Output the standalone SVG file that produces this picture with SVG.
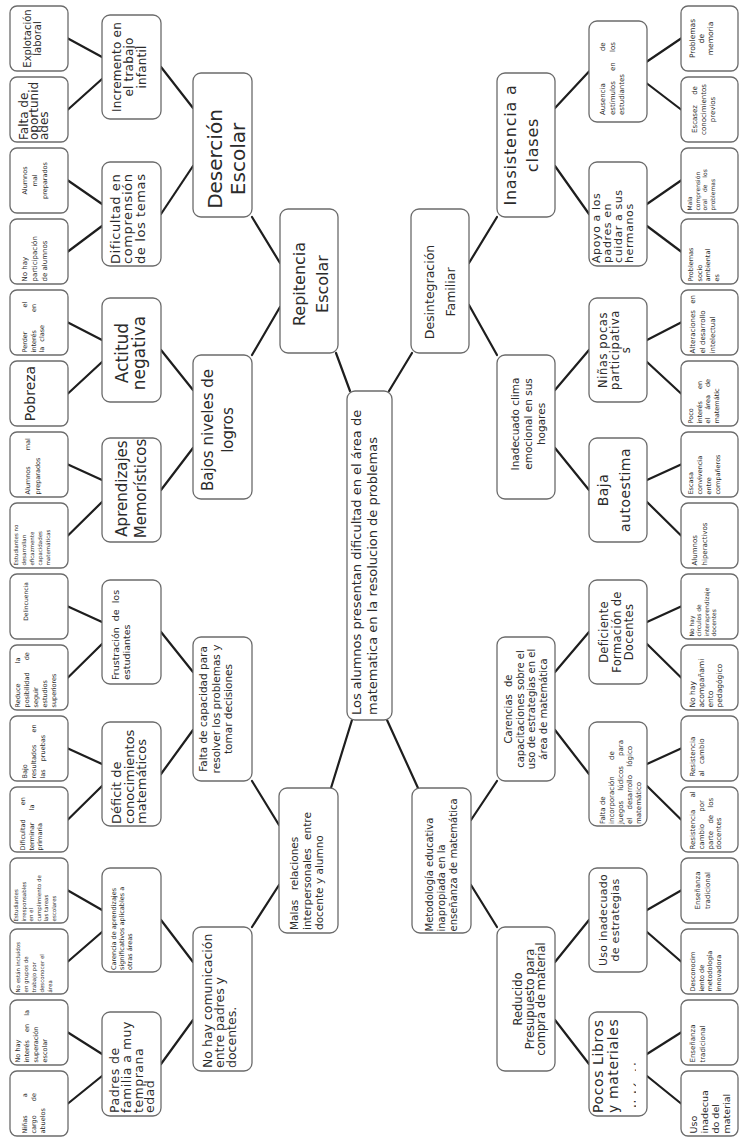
<svg xmlns="http://www.w3.org/2000/svg" width="741" height="1140" viewBox="0 0 741 1140">
<defs>
<style>
.b{fill:#fff;stroke:#6b6b6b;stroke-width:1.3}
text{font-family:"DejaVu Sans","Liberation Sans",sans-serif;fill:#2b2b2b}
.m{text-anchor:middle}
#connectors line{stroke:#1e1e1e;stroke-width:2.2;stroke-linecap:round}
</style>
<clipPath id="clipPocos"><rect x="-52" y="-29" width="104" height="47"/></clipPath>
</defs>
<rect width="741" height="1140" fill="#fff"/>
<g id="connectors">
<line x1="350" y1="391" x2="336" y2="353"/>
<line x1="389" y1="391" x2="412" y2="353"/>
<line x1="352" y1="720" x2="331" y2="788"/>
<line x1="387" y1="720" x2="418" y2="788"/>
<line x1="280" y1="263" x2="252" y2="217"/>
<line x1="280" y1="307" x2="252" y2="355"/>
<line x1="469" y1="263" x2="497" y2="217"/>
<line x1="469" y1="305" x2="497" y2="355"/>
<line x1="279" y1="825" x2="252" y2="781"/>
<line x1="279" y1="885" x2="252" y2="927"/>
<line x1="471" y1="820" x2="497" y2="781"/>
<line x1="471" y1="885" x2="497" y2="927"/>
<line x1="193" y1="108" x2="161" y2="67"/>
<line x1="193" y1="166" x2="161" y2="214"/>
<line x1="193" y1="390" x2="161" y2="350"/>
<line x1="193" y1="448" x2="161" y2="490"/>
<line x1="193" y1="672" x2="161" y2="632"/>
<line x1="193" y1="730" x2="161" y2="774"/>
<line x1="193" y1="962" x2="161" y2="920"/>
<line x1="193" y1="1020" x2="161" y2="1064"/>
<line x1="555" y1="108" x2="589" y2="71.5"/>
<line x1="555" y1="166" x2="589" y2="214"/>
<line x1="555" y1="390" x2="589" y2="350"/>
<line x1="555" y1="448" x2="589" y2="490"/>
<line x1="555" y1="672" x2="589" y2="632"/>
<line x1="555" y1="730" x2="589" y2="774"/>
<line x1="555" y1="962" x2="589" y2="920"/>
<line x1="555" y1="1020" x2="589" y2="1064"/>
<line x1="102" y1="57" x2="68" y2="38.5"/>
<line x1="102" y1="79" x2="68" y2="109.5"/>
<line x1="102" y1="204" x2="68" y2="180.5"/>
<line x1="102" y1="226" x2="68" y2="251.5"/>
<line x1="102" y1="340" x2="68" y2="322.5"/>
<line x1="102" y1="362" x2="68" y2="393.5"/>
<line x1="102" y1="480" x2="68" y2="464.5"/>
<line x1="102" y1="502" x2="68" y2="535.5"/>
<line x1="102" y1="622" x2="68" y2="606.5"/>
<line x1="102" y1="644" x2="68" y2="677.5"/>
<line x1="102" y1="764" x2="68" y2="748.5"/>
<line x1="102" y1="786" x2="68" y2="819.5"/>
<line x1="102" y1="910" x2="68" y2="890.5"/>
<line x1="102" y1="932" x2="68" y2="961.5"/>
<line x1="102" y1="1054" x2="68" y2="1032.5"/>
<line x1="102" y1="1076" x2="68" y2="1103.5"/>
<line x1="647" y1="61.5" x2="681" y2="38.5"/>
<line x1="647" y1="83.5" x2="681" y2="109.5"/>
<line x1="647" y1="204" x2="681" y2="180.5"/>
<line x1="647" y1="226" x2="681" y2="251.5"/>
<line x1="647" y1="340" x2="681" y2="322.5"/>
<line x1="647" y1="362" x2="681" y2="393.5"/>
<line x1="647" y1="480" x2="681" y2="464.5"/>
<line x1="647" y1="502" x2="681" y2="535.5"/>
<line x1="647" y1="622" x2="681" y2="606.5"/>
<line x1="647" y1="644" x2="681" y2="677.5"/>
<line x1="647" y1="764" x2="681" y2="748.5"/>
<line x1="647" y1="786" x2="681" y2="819.5"/>
<line x1="647" y1="910" x2="681" y2="890.5"/>
<line x1="647" y1="932" x2="681" y2="961.5"/>
<line x1="647" y1="1054" x2="681" y2="1032.5"/>
<line x1="647" y1="1076" x2="681" y2="1103.5"/>
</g>

<g id="root" transform="translate(369.5 555.5) rotate(-90)">
<rect class="b" x="-164.5" y="-22.5" width="329" height="45" rx="8"/>
<text font-size="13"><tspan x="-159.5" y="-8.5">Los alumnos presentan dificultad en el área de</tspan><tspan x="-159.5" y="7.5">matematica en la resolucion de problemas</tspan></text>
</g>

<g id="repitencia" transform="translate(309 281) rotate(-90)">
<rect class="b" x="-72" y="-29" width="144" height="58" rx="8"/>
<text class="m" font-size="16"><tspan x="-3" y="-4">Repitencia</tspan><tspan x="-3" y="19">Escolar</tspan></text>
</g>
<g id="desintegracion" transform="translate(440 281) rotate(-90)">
<rect class="b" x="-72" y="-29" width="144" height="58" rx="8"/>
<text class="m" font-size="12.5"><tspan x="-11" y="-6">Desintegración</tspan><tspan x="-11" y="15">Familiar</tspan></text>
</g>
<g id="malas" transform="translate(308.5 860.5) rotate(-90)">
<rect class="b" x="-72.5" y="-29.5" width="145" height="59" rx="8"/>
<text font-size="10.5"><tspan x="-69.5" y="-10.5" word-spacing="6">Malas relaciones</tspan><tspan x="-69.5" y="2" word-spacing="5">interpersonales entre</tspan><tspan x="-69.5" y="14">docente y alumno</tspan></text>
</g>
<g id="metodologia" transform="translate(441.5 860.5) rotate(-90)">
<rect class="b" x="-72.5" y="-29.5" width="145" height="59" rx="8"/>
<text font-size="10"><tspan x="-71" y="-8.5">Metodología educativa</tspan><tspan x="-71" y="3.5">inapropiada en la</tspan><tspan x="-71" y="15.5">enseñanza de matemática</tspan></text>
</g>

<g id="desercion" transform="translate(222.5 145) rotate(-90)">
<rect class="b" x="-72" y="-29.5" width="144" height="59" rx="8"/>
<text class="m" font-size="20"><tspan x="-14" y="-0.5">Deserción</tspan><tspan x="-14" y="22.5">Escolar</tspan></text>
</g>
<g id="bajos" transform="translate(222.5 427) rotate(-90)">
<rect class="b" x="-72" y="-29.5" width="144" height="59" rx="8"/>
<text class="m" font-size="15"><tspan x="-3" y="-9.5">Bajos niveles de</tspan><tspan x="-3" y="10.5">logros</tspan></text>
</g>
<g id="falta-capacidad" transform="translate(222.5 709) rotate(-90)">
<rect class="b" x="-72" y="-29.5" width="144" height="59" rx="8"/>
<text class="m" font-size="10.5"><tspan x="0" y="-15.5">Falta de capacidad para</tspan><tspan x="0" y="-3">resolver los problemas y</tspan><tspan x="0" y="9.5">tomar decisiones</tspan></text>
</g>
<g id="no-comunicacion" transform="translate(222.5 999) rotate(-90)">
<rect class="b" x="-72" y="-29.5" width="144" height="59" rx="8"/>
<text font-size="12.5"><tspan x="-69" y="-10.5">No hay comunicación</tspan><tspan x="-69" y="1.5">entre padres y</tspan><tspan x="-69" y="13.5">docentes.</tspan></text>
</g>

<g id="inasistencia" transform="translate(526 145) rotate(-90)">
<rect class="b" x="-72" y="-29" width="144" height="58" rx="8"/>
<text class="m" font-size="16" letter-spacing="0.8"><tspan x="0" y="-10">Inasistencia a</tspan><tspan x="0" y="12">clases</tspan></text>
</g>
<g id="inadecuado-clima" transform="translate(526 427) rotate(-90)">
<rect class="b" x="-72" y="-29" width="144" height="58" rx="8"/>
<text class="m" font-size="10.5"><tspan x="3" y="-7">Inadecuado clima</tspan><tspan x="3" y="6">emocional en sus</tspan><tspan x="3" y="19">hogares</tspan></text>
</g>
<g id="carencias" transform="translate(526 709) rotate(-90)">
<rect class="b" x="-72" y="-29" width="144" height="58" rx="8"/>
<text class="m" font-size="10"><tspan x="0" y="-13.75" word-spacing="4">Carencias de</tspan><tspan x="0" y="-2.25">capacitaciones sobre el</tspan><tspan x="0" y="9.25">uso de estrategias en el</tspan><tspan x="0" y="20.75">área de matemática</tspan></text>
</g>
<g id="reducido" transform="translate(526 999) rotate(-90)">
<rect class="b" x="-72" y="-29" width="144" height="58" rx="8"/>
<text class="m" font-size="11.5"><tspan x="0" y="-4">Reducido</tspan><tspan x="0" y="7.5">Presupuesto para</tspan><tspan x="0" y="19">compra de material</tspan></text>
</g>

<g id="incremento" transform="translate(131.5 67) rotate(-90)">
<rect class="b" x="-52" y="-29.5" width="104" height="59" rx="8"/>
<text class="m" font-size="12" letter-spacing="0.2"><tspan x="0" y="-10.5">Incremento en</tspan><tspan x="0" y="1">el trabajo</tspan><tspan x="0" y="14.5">infantil</tspan></text>
</g>
<g id="dificultad-comprension" transform="translate(131.5 214) rotate(-90)">
<rect class="b" x="-52" y="-29.5" width="104" height="59" rx="8"/>
<text font-size="13" letter-spacing="0.6"><tspan x="-50" y="-11.5">Dificultad en</tspan><tspan x="-50" y="0.5">comprensión</tspan><tspan x="-50" y="13.5">de los temas</tspan></text>
</g>
<g id="actitud" transform="translate(131.5 350) rotate(-90)">
<rect class="b" x="-52" y="-29.5" width="104" height="59" rx="8"/>
<text class="m" font-size="17"><tspan x="-3" y="-3.5">Actitud</tspan><tspan x="-3" y="13.5">negativa</tspan></text>
</g>
<g id="aprendizajes" transform="translate(131.5 490) rotate(-90)">
<rect class="b" x="-52" y="-29.5" width="104" height="59" rx="8"/>
<text class="m" font-size="15"><tspan x="1.5" y="-4.5">Aprendizajes</tspan><tspan x="1.5" y="14.5">Memorísticos</tspan></text>
</g>
<g id="frustracion" transform="translate(131.5 632) rotate(-90)">
<rect class="b" x="-52" y="-29.5" width="104" height="59" rx="8"/>
<text font-size="9.5"><tspan x="-48" y="-12.5" word-spacing="3">Frustración de los</tspan><tspan x="-48" y="-1.5">estudiantes</tspan></text>
</g>
<g id="deficit" transform="translate(131.5 774) rotate(-90)">
<rect class="b" x="-52" y="-29.5" width="104" height="59" rx="8"/>
<text font-size="13"><tspan x="-50" y="-10.5">Déficit de</tspan><tspan x="-50" y="2">conocimientos</tspan><tspan x="-50" y="14.5">matemáticos</tspan></text>
</g>
<g id="carencia-aprendizajes" transform="translate(131.5 920) rotate(-90)">
<rect class="b" x="-52" y="-29.5" width="104" height="59" rx="8"/>
<text font-size="6.5"><tspan x="-50" y="-15.5">Carencia de aprendizajes</tspan><tspan x="-50" y="-7.5">significativos aplicables a</tspan><tspan x="-50" y="0.5">otras áreas</tspan></text>
</g>
<g id="padres" transform="translate(131.5 1064) rotate(-90)">
<rect class="b" x="-52" y="-29.5" width="104" height="59" rx="8"/>
<text font-size="12.5" letter-spacing="0.5"><tspan x="-49" y="-12.5">Padres de</tspan><tspan x="-49" y="-0.5">familia a muy</tspan><tspan x="-49" y="11">temprana</tspan><tspan x="-49" y="22">edad</tspan></text>
</g>

<g id="ausencia" transform="translate(618 71.5) rotate(-90)">
<rect class="b" x="-50.5" y="-29" width="101" height="58" rx="8"/>
<text font-size="7"><tspan x="-43.5" y="-13" word-spacing="30">Ausencia de</tspan><tspan x="-43.5" y="-3" word-spacing="8">estímulos en los</tspan><tspan x="-43.5" y="6">estudiantes</tspan></text>
</g>
<g id="apoyo" transform="translate(618 214) rotate(-90)">
<rect class="b" x="-52" y="-29" width="104" height="58" rx="8"/>
<text font-size="11" letter-spacing="0.6"><tspan x="-49" y="-18">Apoyo a los</tspan><tspan x="-49" y="-7">padres en</tspan><tspan x="-49" y="4">cuidar a sus</tspan><tspan x="-49" y="15">hermanos</tspan></text>
</g>
<g id="ninas-pocas" transform="translate(618 350) rotate(-90)">
<rect class="b" x="-52" y="-29" width="104" height="58" rx="8"/>
<text class="m" font-size="11.5" letter-spacing="0.6"><tspan x="0" y="-11">Niñas pocas</tspan><tspan x="0" y="1">participativa</tspan><tspan x="0" y="12">s</tspan></text>
</g>
<g id="baja-autoestima" transform="translate(618 490) rotate(-90)">
<rect class="b" x="-52" y="-29" width="104" height="58" rx="8"/>
<text class="m" font-size="14" letter-spacing="0.5"><tspan x="0" y="-10">Baja</tspan><tspan x="0" y="12">autoestima</tspan></text>
</g>
<g id="deficiente" transform="translate(618 632) rotate(-90)">
<rect class="b" x="-52" y="-29" width="104" height="58" rx="8"/>
<text class="m" font-size="11.5" letter-spacing="0.3"><tspan x="0" y="-10">Deficiente</tspan><tspan x="0" y="3">Formación de</tspan><tspan x="0" y="15">Docentes</tspan></text>
</g>
<g id="falta-juegos" transform="translate(618 774) rotate(-90)">
<rect class="b" x="-52" y="-29" width="104" height="58" rx="8"/>
<text font-size="7"><tspan x="-50" y="-13">Falta de</tspan><tspan x="-50" y="-4" word-spacing="14">incorporación de</tspan><tspan x="-50" y="5" word-spacing="8">juegos lúdicos para</tspan><tspan x="-50" y="14" word-spacing="6">el desarrollo lógico</tspan><tspan x="-50" y="23">matemático</tspan></text>
</g>
<g id="uso-estrategias" transform="translate(618 920) rotate(-90)">
<rect class="b" x="-52" y="-29" width="104" height="58" rx="8"/>
<text class="m" font-size="11" letter-spacing="0.3"><tspan x="0" y="-11">Uso inadecuado</tspan><tspan x="0" y="0.5">de estrategias</tspan></text>
</g>
<g id="pocos-libros" transform="translate(618 1064) rotate(-90)">
<rect class="b" x="-52" y="-29" width="104" height="58" rx="8"/>
<text font-size="14" letter-spacing="0.6"><tspan x="-49" y="-15">Pocos Libros</tspan><tspan x="-49" y="0">y materiales</tspan></text>
<text font-size="14" letter-spacing="0.6" clip-path="url(#clipPocos)" x="-49" y="27">didácticos</text>
</g>

<g id="l-explotacion" transform="translate(39 38.5) rotate(-90)">
<rect class="b" x="-32.5" y="-29" width="65" height="58" rx="7"/>
<text class="m" font-size="10"><tspan x="0" y="-8.5">Explotación</tspan><tspan x="0" y="1.5">laboral</tspan></text>
</g>
<g id="l-falta-oportunidades" transform="translate(39 109.5) rotate(-90)">
<rect class="b" x="-32.5" y="-29" width="65" height="58" rx="7"/>
<text font-size="12"><tspan x="-30.5" y="-11">Falta de</tspan><tspan x="-30.5" y="-1">oportunid</tspan><tspan x="-30.5" y="9">ades</tspan></text>
</g>
<g id="l-alumnos-mal-1" transform="translate(39 180.5) rotate(-90)">
<rect class="b" x="-32.5" y="-29" width="65" height="58" rx="7"/>
<text class="m" font-size="6.5"><tspan x="0" y="-12">Alumnos</tspan><tspan x="0" y="-2">mal</tspan><tspan x="0" y="8">preparados</tspan></text>
</g>
<g id="l-no-participacion" transform="translate(39 251.5) rotate(-90)">
<rect class="b" x="-32.5" y="-29" width="65" height="58" rx="7"/>
<text font-size="7"><tspan x="-30" y="-12">No hay</tspan><tspan x="-30" y="-2">participación</tspan><tspan x="-30" y="8">de alumnos</tspan></text>
</g>
<g id="l-perder-interes" transform="translate(39 322.5) rotate(-90)">
<rect class="b" x="-32.5" y="-29" width="65" height="58" rx="7"/>
<text font-size="6.5"><tspan x="-30" y="-12" word-spacing="22">Perder el</tspan><tspan x="-30" y="-3.5" word-spacing="16">interés en</tspan><tspan x="-30" y="5" word-spacing="3">la clase</tspan></text>
</g>
<g id="l-pobreza" transform="translate(39 393.5) rotate(-90)">
<rect class="b" x="-32.5" y="-29" width="65" height="58" rx="7"/>
<text class="m" font-size="14"><tspan x="0" y="-4">Pobreza</tspan></text>
</g>
<g id="l-alumnos-mal-2" transform="translate(39 464.5) rotate(-90)">
<rect class="b" x="-32.5" y="-29" width="65" height="58" rx="7"/>
<text font-size="6.5"><tspan x="-30" y="-9" word-spacing="14">Alumnos mal</tspan><tspan x="-30" y="1">preparados</tspan></text>
</g>
<g id="l-estudiantes-no" transform="translate(39 535.5) rotate(-90)">
<rect class="b" x="-32.5" y="-29" width="65" height="58" rx="7"/>
<text font-size="5.5"><tspan x="-30" y="-21">Estudiantes no</tspan><tspan x="-30" y="-13">desarrollan</tspan><tspan x="-30" y="-5">eficazmente</tspan><tspan x="-30" y="3">capacidades</tspan><tspan x="-30" y="11">matemáticas</tspan></text>
</g>
<g id="l-delincuencia" transform="translate(39 606.5) rotate(-90)">
<rect class="b" x="-32.5" y="-29" width="65" height="58" rx="7"/>
<text class="m" font-size="6"><tspan x="5" y="-11">Delincuencia</tspan></text>
</g>
<g id="l-reduce" transform="translate(39 677.5) rotate(-90)">
<rect class="b" x="-32.5" y="-29" width="65" height="58" rx="7"/>
<text font-size="6.5"><tspan x="-30" y="-19" word-spacing="18">Reduce la</tspan><tspan x="-30" y="-10" word-spacing="10">posibilidad de</tspan><tspan x="-30" y="-1">seguir</tspan><tspan x="-30" y="8">estudios</tspan><tspan x="-30" y="17">superiores</tspan></text>
</g>
<g id="l-bajo-resultados" transform="translate(39 748.5) rotate(-90)">
<rect class="b" x="-32.5" y="-29" width="65" height="58" rx="7"/>
<text font-size="6.5"><tspan x="-30" y="-12">Bajo</tspan><tspan x="-30" y="-3" word-spacing="10">resultados en</tspan><tspan x="-30" y="6" word-spacing="6">las pruebas</tspan></text>
</g>
<g id="l-dificultad-terminar" transform="translate(39 819.5) rotate(-90)">
<rect class="b" x="-32.5" y="-29" width="65" height="58" rx="7"/>
<text font-size="6.5"><tspan x="-31" y="-14" word-spacing="12">Dificultad en</tspan><tspan x="-31" y="-5.5" word-spacing="10">terminar la</tspan><tspan x="-31" y="3">primaria</tspan></text>
</g>
<g id="l-irresponsables" transform="translate(39 890.5) rotate(-90)">
<rect class="b" x="-32.5" y="-29" width="65" height="58" rx="7"/>
<text font-size="5.5"><tspan x="-31" y="-21">Estudiantes</tspan><tspan x="-31" y="-13.5">irresponsables</tspan><tspan x="-31" y="-6">en el</tspan><tspan x="-31" y="1.5">cumplimiento de</tspan><tspan x="-31" y="9">las tareas</tspan><tspan x="-31" y="16.5">escolares</tspan></text>
</g>
<g id="l-no-incluidos" transform="translate(39 961.5) rotate(-90)">
<rect class="b" x="-32.5" y="-29" width="65" height="58" rx="7"/>
<text font-size="5.5"><tspan x="-31" y="-19">No están incluidos</tspan><tspan x="-31" y="-11">en grupos de</tspan><tspan x="-31" y="-3">trabajo por</tspan><tspan x="-31" y="5">desconocer el</tspan><tspan x="-31" y="13">área</tspan></text>
</g>
<g id="l-no-interes" transform="translate(39 1032.5) rotate(-90)">
<rect class="b" x="-32.5" y="-29" width="65" height="58" rx="7"/>
<text font-size="6.5"><tspan x="-30" y="-19">No hay</tspan><tspan x="-30" y="-10" word-spacing="6">interés en la</tspan><tspan x="-30" y="-1">superación</tspan><tspan x="-30" y="8">escolar</tspan></text>
</g>
<g id="l-ninas-abuelos" transform="translate(39 1103.5) rotate(-90)">
<rect class="b" x="-32.5" y="-29" width="65" height="58" rx="7"/>
<text font-size="6.5"><tspan x="-30" y="-12" word-spacing="16">Niñas a</tspan><tspan x="-30" y="-3" word-spacing="12">cargo de</tspan><tspan x="-30" y="6">abuelos</tspan></text>
</g>

<g id="r-memoria" transform="translate(709.5 38.5) rotate(-90)">
<rect class="b" x="-32.5" y="-28.5" width="65" height="57" rx="7"/>
<text class="m" font-size="7.5"><tspan x="0" y="-14.5">Problemas</tspan><tspan x="0" y="-6">de</tspan><tspan x="0" y="3.5">memoria</tspan></text>
</g>
<g id="r-escasez" transform="translate(709.5 109.5) rotate(-90)">
<rect class="b" x="-32.5" y="-28.5" width="65" height="57" rx="7"/>
<text class="m" font-size="7"><tspan x="0" y="-12.5" word-spacing="8">Escasez de</tspan><tspan x="0" y="-4">conocimientos</tspan><tspan x="0" y="5.5">previos</tspan></text>
</g>
<g id="r-mala-comprension" transform="translate(709.5 180.5) rotate(-90)">
<rect class="b" x="-32.5" y="-28.5" width="65" height="57" rx="7"/>
<text font-size="6"><tspan x="-30" y="-17.5">Mala</tspan><tspan x="-30" y="-10">comprensión</tspan><tspan x="-30" y="-2.5" word-spacing="5">oral de los</tspan><tspan x="-30" y="5">problemas</tspan></text>
</g>
<g id="r-socio" transform="translate(709.5 251.5) rotate(-90)">
<rect class="b" x="-32.5" y="-28.5" width="65" height="57" rx="7"/>
<text font-size="6.5"><tspan x="-30" y="-16.5">Problemas</tspan><tspan x="-30" y="-8">socio</tspan><tspan x="-30" y="0.5">ambiental</tspan><tspan x="-30" y="9">es</tspan></text>
</g>
<g id="r-alteraciones" transform="translate(709.5 322.5) rotate(-90)">
<rect class="b" x="-32.5" y="-28.5" width="65" height="57" rx="7"/>
<text font-size="7"><tspan x="-31" y="-14.5" word-spacing="4">Alteraciones en</tspan><tspan x="-31" y="-4.5">el desarrollo</tspan><tspan x="-31" y="5.5">intelectual</tspan></text>
</g>
<g id="r-poco-interes" transform="translate(709.5 393.5) rotate(-90)">
<rect class="b" x="-32.5" y="-28.5" width="65" height="57" rx="7"/>
<text font-size="6.5"><tspan x="-30" y="-16.5">Poco</tspan><tspan x="-30" y="-8" word-spacing="10">interés en</tspan><tspan x="-30" y="0.5" word-spacing="6">el área de</tspan><tspan x="-30" y="9">matemátic</tspan></text>
</g>
<g id="r-escasa-convivencia" transform="translate(709.5 464.5) rotate(-90)">
<rect class="b" x="-32.5" y="-28.5" width="65" height="57" rx="7"/>
<text font-size="6.5"><tspan x="-30" y="-16.5">Escasa</tspan><tspan x="-30" y="-7.5">convivencia</tspan><tspan x="-30" y="1">entre</tspan><tspan x="-30" y="10">compañeros</tspan></text>
</g>
<g id="r-hiperactivos" transform="translate(709.5 535.5) rotate(-90)">
<rect class="b" x="-32.5" y="-28.5" width="65" height="57" rx="7"/>
<text font-size="7"><tspan x="-30" y="-12.5">Alumnos</tspan><tspan x="-30" y="-3">hiperactivos</tspan></text>
</g>
<g id="r-circulos" transform="translate(709.5 606.5) rotate(-90)">
<rect class="b" x="-32.5" y="-28.5" width="65" height="57" rx="7"/>
<text font-size="6"><tspan x="-30" y="-16">No hay</tspan><tspan x="-30" y="-8.5">círculos de</tspan><tspan x="-30" y="-1">interaprendizaje</tspan><tspan x="-30" y="6.5">docentes</tspan></text>
</g>
<g id="r-acompanamiento" transform="translate(709.5 677.5) rotate(-90)">
<rect class="b" x="-32.5" y="-28.5" width="65" height="57" rx="7"/>
<text font-size="7.5"><tspan x="-30" y="-14.5">No hay</tspan><tspan x="-30" y="-5.5">acompañami</tspan><tspan x="-30" y="3">ento</tspan><tspan x="-30" y="12">pedagógico</tspan></text>
</g>
<g id="r-resistencia-1" transform="translate(709.5 748.5) rotate(-90)">
<rect class="b" x="-32.5" y="-28.5" width="65" height="57" rx="7"/>
<text font-size="7"><tspan x="-28" y="-14.5">Resistencia</tspan><tspan x="-28" y="-5.5" word-spacing="4">al cambio</tspan></text>
</g>
<g id="r-resistencia-2" transform="translate(709.5 819.5) rotate(-90)">
<rect class="b" x="-32.5" y="-28.5" width="65" height="57" rx="7"/>
<text font-size="7"><tspan x="-30" y="-14.5" word-spacing="10">Resistencia al</tspan><tspan x="-30" y="-6" word-spacing="10">cambio por</tspan><tspan x="-30" y="3" word-spacing="5">parte de los</tspan><tspan x="-30" y="11">docentes</tspan></text>
</g>
<g id="r-ensenanza-1" transform="translate(709.5 890.5) rotate(-90)">
<rect class="b" x="-32.5" y="-28.5" width="65" height="57" rx="7"/>
<text class="m" font-size="7"><tspan x="0" y="-9.5">Enseñanza</tspan><tspan x="0" y="0.5">tradicional</tspan></text>
</g>
<g id="r-desconocimiento" transform="translate(709.5 961.5) rotate(-90)">
<rect class="b" x="-32.5" y="-28.5" width="65" height="57" rx="7"/>
<text font-size="6.5"><tspan x="-30" y="-14.5">Desconocim</tspan><tspan x="-30" y="-6">iento de</tspan><tspan x="-30" y="2.5">metodología</tspan><tspan x="-30" y="11">innovadora</tspan></text>
</g>
<g id="r-ensenanza-2" transform="translate(709.5 1032.5) rotate(-90)">
<rect class="b" x="-32.5" y="-28.5" width="65" height="57" rx="7"/>
<text font-size="7"><tspan x="-30" y="-14.5">Enseñanza</tspan><tspan x="-30" y="-4.5">tradicional</tspan></text>
</g>
<g id="r-uso-material" transform="translate(709.5 1103.5) rotate(-90)">
<rect class="b" x="-32.5" y="-28.5" width="65" height="57" rx="7"/>
<text font-size="9.5"><tspan x="-30" y="-13">Uso</tspan><tspan x="-30" y="-2">inadecua</tspan><tspan x="-30" y="9">do del</tspan><tspan x="-30" y="20">material</tspan></text>
</g>
</svg>
